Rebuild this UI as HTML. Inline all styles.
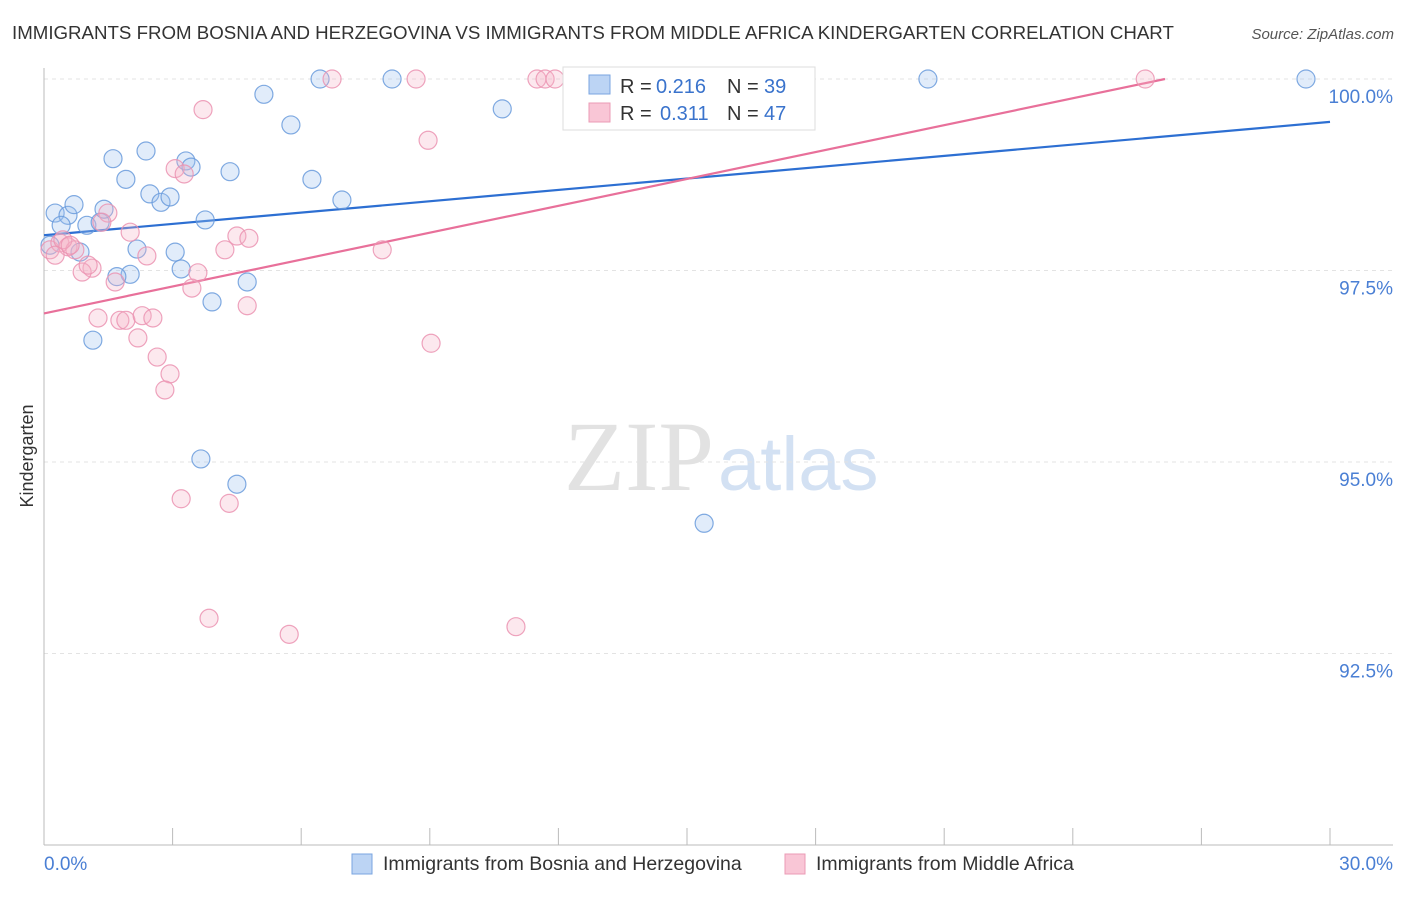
<!DOCTYPE html>
<html><head><meta charset="utf-8"><style>
body{margin:0;background:#fff;font-family:"Liberation Sans",sans-serif;}
</style></head><body>
<svg id="chart" width="1406" height="892" xmlns="http://www.w3.org/2000/svg" font-family="Liberation Sans, sans-serif">
<text x="12" y="39" font-size="18.7" fill="#333">IMMIGRANTS FROM BOSNIA AND HERZEGOVINA VS IMMIGRANTS FROM MIDDLE AFRICA KINDERGARTEN CORRELATION CHART</text>
<text x="1394" y="39" font-size="15" fill="#555" text-anchor="end" font-style="italic">Source: ZipAtlas.com</text>
<text x="714" y="490" font-size="100" fill="#e2e2e2" text-anchor="end" font-family="Liberation Serif, serif">ZIP</text>
<text x="718" y="490" font-size="76" fill="#d3e1f3">atlas</text>
<g id="grid"></g><g id="axes"></g><g id="lines"></g><g id="pts"></g>
<text transform="translate(33,456) rotate(-90)" font-size="18" fill="#333" text-anchor="middle">Kindergarten</text>
<text x="44" y="870" font-size="19" fill="#4a7fd4">0.0%</text>
<text x="1393" y="870" font-size="19" fill="#4a7fd4" text-anchor="end">30.0%</text>
<g>
<rect x="563" y="67" width="252" height="63" fill="#fff" stroke="#ddd"/>
<rect x="589" y="75" width="21" height="19" fill="#bcd4f4" stroke="#7aa5e0"/>
<rect x="589" y="103" width="21" height="19" fill="#f9c6d6" stroke="#eb9bb5"/>
<text x="620" y="93" font-size="20" fill="#333">R =</text>
<text x="656" y="93" font-size="20" fill="#3a73cc">0.216</text>
<text x="727" y="93" font-size="20" fill="#333">N =</text>
<text x="764" y="93" font-size="20" fill="#3a73cc">39</text>
<text x="620" y="120" font-size="20" fill="#333">R =</text>
<text x="660" y="120" font-size="20" fill="#3a73cc">0.311</text>
<text x="727" y="120" font-size="20" fill="#333">N =</text>
<text x="764" y="120" font-size="20" fill="#3a73cc">47</text>
</g>
<g>
<rect x="352" y="854" width="20" height="20" fill="#bcd4f4" stroke="#7aa5e0"/>
<text x="383" y="870" font-size="19.5" fill="#333">Immigrants from Bosnia and Herzegovina</text>
<rect x="785" y="854" width="20" height="20" fill="#f9c6d6" stroke="#eb9bb5"/>
<text x="816" y="870" font-size="19.5" fill="#333">Immigrants from Middle Africa</text>
</g>
</svg>
<script>
const yTicks=[100,97.5,95,92.5];
const yTickLabels=["100.0%","97.5%","95.0%","92.5%"];
const xTicks=[0,3,6,9,12,15,18,21,24,27,30];
const blueX=[0.26,0.56,0.70,0.40,1.00,1.31,1.40,0.84,1.61,1.91,2.38,2.47,2.73,2.94,3.31,3.43,3.76,4.34,5.13,5.76,6.25,6.95,6.44,8.12,10.69,20.62,29.44,2.17,3.06,3.20,2.01,1.70,4.74,3.92,1.14,3.66,4.50,15.40,0.14];
const blueY=[98.25,98.22,98.36,98.09,98.09,98.13,98.30,97.74,98.96,98.69,99.06,98.50,98.39,98.46,98.93,98.85,98.16,98.79,99.80,99.40,98.69,98.42,100,100,99.61,100,100,97.78,97.74,97.52,97.45,97.42,97.35,97.09,96.59,95.04,94.71,94.20,97.83];
const pinkX=[0.14,0.37,0.56,0.72,0.44,1.12,0.89,1.49,1.35,2.01,2.40,1.66,1.26,1.77,1.91,2.29,2.54,2.19,2.64,2.94,2.82,3.06,3.27,3.71,3.59,3.45,4.22,4.50,4.78,4.74,3.20,4.32,3.85,5.72,11.01,9.03,7.89,8.96,6.72,8.68,11.50,11.69,11.92,25.69,1.03,0.26,0.61];
const pinkY=[97.77,97.86,97.81,97.77,97.90,97.53,97.48,98.25,98.13,98.00,97.69,97.35,96.88,96.85,96.85,96.91,96.88,96.62,96.37,96.15,95.94,98.83,98.76,99.60,97.47,97.27,97.77,97.95,97.92,97.04,94.52,94.46,92.96,92.75,92.85,96.55,97.77,99.20,100,100,100,100,100,100,97.57,97.70,97.83];
const blueTrend=[[0,97.96],[30,99.44]];
const pinkTrend=[[0,96.94],[26.15,100]];
const NS="http://www.w3.org/2000/svg";
const sx=v=>44+v/30*1286, sy=v=>79+(100-v)/2.5*191.5;
function mk(t,a,p){const e=document.createElementNS(NS,t);for(const k in a)e.setAttribute(k,a[k]);document.getElementById(p).appendChild(e);return e;}
yTicks.forEach((v,i)=>{
 const l=mk('line',{x1:44,x2:1393,y1:sy(v),y2:sy(v),stroke:'#e3e3e3','stroke-dasharray':'4,4'},'grid');
 
 
 const t=mk('text',{x:1393,y:sy(v)+24,'font-size':19,fill:'#4a7fd4','text-anchor':'end'},'grid');
 t.textContent=yTickLabels[i];
 
 
});
const ax=mk('line',{x1:44,x2:44,y1:68,y2:845,stroke:'#bbb'},'axes');


const bx=mk('line',{x1:44,x2:1393,y1:845,y2:845,stroke:'#bbb'},'axes');


xTicks.forEach(v=>{
 const t=mk('line',{x1:sx(v),x2:sx(v),y1:828,y2:845,stroke:'#bbb'},'axes');
 
 
});
function pts(X,Y,fill,stroke,name){X.forEach((x,i)=>{
 const c=mk('circle',{cx:sx(x),cy:sy(Y[i]),r:9,fill:fill,'fill-opacity':0.3,stroke:stroke,'stroke-width':1.2,'stroke-opacity':0.85},'pts');
 
 
});}
pts(blueX,blueY,'#9cc0ee','#6a9bdc','bosnia-point');
pts(pinkX,pinkY,'#f6b3c8','#eb93b1','middle-africa-point');
function tl(T,col,name){
 const l=mk('line',{x1:sx(T[0][0]),y1:sy(T[0][1]),x2:sx(T[1][0]),y2:sy(T[1][1]),stroke:col,'stroke-width':2.2},'lines');
 
 
}
tl(blueTrend,'#2d6fd2','bosnia-trend-line');
tl(pinkTrend,'#e8709a','middle-africa-trend-line');
</script>
</body></html>
